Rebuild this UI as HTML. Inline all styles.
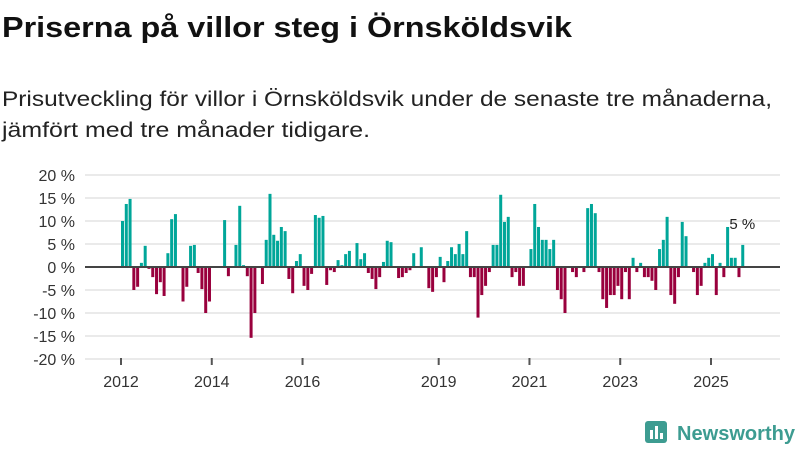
<!DOCTYPE html>
<html><head><meta charset="utf-8"><style>
html,body{margin:0;padding:0;background:#fff;}
svg{display:block;font-family:"Liberation Sans","DejaVu Sans",sans-serif;}
</style></head><body>
<svg id="chart" width="800" height="450" viewBox="0 0 800 450">
<text x="2" y="37" font-size="29" font-weight="bold" fill="#111" textLength="570" lengthAdjust="spacingAndGlyphs">Priserna på villor steg i Örnsköldsvik</text>
<text x="2" y="106" font-size="21" fill="#222" textLength="770" lengthAdjust="spacingAndGlyphs">Prisutveckling för villor i Örnsköldsvik under de senaste tre månaderna,</text>
<text x="2" y="137" font-size="21" fill="#222" textLength="368" lengthAdjust="spacingAndGlyphs">jämfört med tre månader tidigare.</text>
<g id="grid"></g><g id="bars"></g><g id="axis"></g>
<g>
<rect x="645" y="421" width="22" height="22" rx="3" fill="#3d9c91"/>
<rect x="650" y="430" width="3" height="9" fill="#fff"/><rect x="655" y="426" width="3" height="13" fill="#fff"/><rect x="660" y="433" width="3" height="6" fill="#fff"/>
<text x="677" y="440" font-size="20" font-weight="bold" fill="#3d9c91" textLength="118" lengthAdjust="spacingAndGlyphs">Newsworthy</text>
</g>
</svg>
<script>
const values=[10,13.7,14.8,-5,-4.3,0.9,4.6,-0.4,-2.2,-5.9,-3.3,-6.3,3.0,10.4,11.5,0,-7.5,-4.3,4.6,4.8,-1.3,-4.8,-10,-7.5,0,0,0,10.2,-2,0,4.8,13.3,0.4,-2,-15.4,-10,0,-3.7,5.9,15.9,7.0,
5.7,8.7,7.8,-2.6,-5.7,1.3,2.8,-4.1,-5,-1.5,11.3,10.7,11.1,-3.9,-0.7,-1.1,1.5,0.4,2.8,3.5,0,5.2,1.7,3.0,-1.3,-2.6,-4.8,-2.2,1.1,5.7,5.4,0,-2.4,-2.2,-1.3,-0.7,3.0,0,4.3,0,-4.6,-5.4,-2.2,
2.2,-3.3,1.3,4.3,2.8,5,2.8,7.8,-2.2,-2.2,-11,-6.1,-4.1,-1.1,4.8,4.8,15.7,9.8,10.9,-2.2,-1.1,-4.1,-4.1,0,3.9,13.7,8.7,5.9,5.9,3.9,5.9,-5,-7,-10,0,-1.1,-2.2,0,-1.1,12.8,13.7,11.7,-1.1,-7,-8.9,
-6.1,-6.1,-4.1,-7,-1.1,-7,2,-1.1,0.9,-2.2,-2.2,-3,-5,3.9,5.9,10.9,-6.1,-8,-2.2,9.8,6.7,0,-1.1,-6.1,-4.1,0.9,2,2.8,-6.1,0.9,-2.2,8.7,2,2,-2.2,4.8];
const yTicks=[20,15,10,5,0,-5,-10,-15,-20];
const yearLabels=[2012,2014,2016,2019,2021,2023,2025];
const lastLabel="5 %";
const NS="http://www.w3.org/2000/svg";
const y=v=>267-v*4.6;
const x=m=>121+m*3.782;
const grid=document.getElementById('grid'),bars=document.getElementById('bars'),axis=document.getElementById('axis');
function mk(t,a,p){const e=document.createElementNS(NS,t);for(const k in a)e.setAttribute(k,a[k]);p.appendChild(e);return e;}
yTicks.forEach(t=>{
 const l=mk('line',{x1:85,x2:780,y1:y(t),y2:y(t),stroke:'#e3e3e3','stroke-width':1.5},grid);
 
 
 const tx=mk('text',{x:75,y:y(t)+6,'font-size':16,fill:'#333','text-anchor':'end'},grid);
 tx.textContent=t+' %';
 
 
});
values.forEach((v,i)=>{
 const r=mk('rect',{x:x(i),width:3,y:Math.min(y(v),y(0)),height:Math.abs(y(v)-y(0)),fill:v>=0?'#00a699':'#99003d'},bars);
 
 
});
const zl=mk('line',{x1:85,x2:780,y1:y(0),y2:y(0),stroke:'#444','stroke-width':2},axis);


yearLabels.forEach(yr=>{
 const xx=x((yr-2012)*12);
 const tk=mk('line',{x1:xx,x2:xx,y1:358,y2:365,stroke:'#555','stroke-width':2},axis);
 
 
 const t=mk('text',{x:xx,y:387,'font-size':16,fill:'#333','text-anchor':'middle'},axis);
 t.textContent=yr;
 
 
});
const li=values.length-1;
const lab=mk('text',{x:x(li)+14,y:y(values[li])-16,'font-size':15,fill:'#222','text-anchor':'end'},axis);
lab.textContent=lastLabel;


</script>
</body></html>
